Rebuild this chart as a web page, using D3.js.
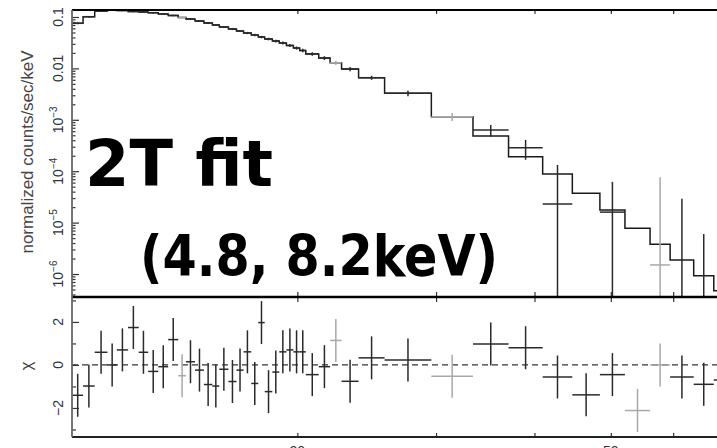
<!DOCTYPE html>
<html>
<head>
<meta charset="utf-8">
<script src="https://cdn.jsdelivr.net/npm/d3@7/dist/d3.min.js"></script>
<style>
  html, body { margin: 0; padding: 0; background: #fff; }
  svg { display: block; }
</style>
</head>
<body>
<svg id="chart" width="717" height="448"></svg>
<script>
// ---------------- DATA ----------------
// energy bin edges, keV (44 bins)
const energyEdges = [10.36, 10.69, 11.06, 11.48, 11.80, 12.19, 12.58, 12.93, 13.32, 13.71,
  14.12, 14.44, 14.83, 15.22, 15.60, 15.92, 16.35, 16.74, 17.09, 17.48,
  17.84, 18.18, 18.59, 18.97, 19.37, 19.77, 20.14, 20.50, 21.29, 22.01,
  22.76, 23.92, 25.81, 29.59, 33.42, 37.08, 40.97, 44.68, 48.43, 52.11,
  56.08, 59.47, 63.71, 67.56, 71.22];

// observed normalized counts/sec/keV (null = not drawn in log panel)
const counts = [0.0754, 0.1013, 0.1308, 0.135, 0.134, 0.1279, 0.1251, 0.1213, 0.1144, 0.107,
  0.0978, 0.0914, 0.0836, 0.0764, 0.0699, 0.0639, 0.0584, 0.0534, 0.0488, 0.0447,
  0.0408, 0.0373, 0.0341, 0.0312, 0.0279, 0.0249, 0.0223, 0.0191, 0.0159, 0.0129,
  0.00973, 0.00659, 0.00328, 0.00115, 6.33e-4, 2.87e-4, 2.3e-5, null, 1.6e-5, null,
  1.5e-6, 0, 0, null];

// 1-sigma errors on counts
const countErr = [0.003, 0.003, 0.004, 0.004, 0.004, 0.004, 0.004, 0.004, 0.004, 0.004,
  0.004, 0.004, 0.0035, 0.0033, 0.0031, 0.003, 0.0028, 0.0026, 0.0025, 0.0024,
  0.0023, 0.0022, 0.0021, 0.002, 0.0019, 0.0018, 0.0017, 0.0015, 0.0014, 0.0012,
  0.0009, 0.0006, 0.0004, 0.0002, 1.6e-4, 1.2e-4, 1.09e-4, null, 4.6e-5, null,
  7.5e-5, 2.9e-5, 6.0e-6, null];

// 2T model (folded), counts/sec/keV
const model = [0.0754, 0.1013, 0.1308, 0.135, 0.134, 0.1279, 0.1251, 0.1213, 0.1144, 0.107,
  0.0978, 0.0914, 0.0836, 0.0764, 0.0699, 0.0639, 0.0584, 0.0534, 0.0488, 0.0447,
  0.0408, 0.0373, 0.0341, 0.0312, 0.0279, 0.0249, 0.0223, 0.0191, 0.0159, 0.0129,
  0.00973, 0.00659, 0.00328, 0.00115, 4.84e-4, 1.91e-4, 8.82e-5, 3.72e-5, 1.76e-5, 7.74e-6,
  3.78e-6, 1.87e-6, 9.27e-7, 4.73e-7];

// residuals, chi
const chi = [-1.41, -0.98, 0.59, 0.0, 0.70, 1.74, 0.59, -0.30, -0.08, 1.18,
  -0.50, 0.15, -0.24, -0.91, -0.98, -0.20, -0.77, -0.24, 0.61, -0.86,
  1.97, -1.24, -0.33, 0.61, 0.70, 0.61, 0.61, -0.45, -0.08, 1.14,
  -0.76, 0.33, 0.23, -0.52, 0.98, 0.80, -0.56, -1.39, -0.45, -2.12,
  0.0, -0.56, -0.90, -0.70];

// 0 = dark data set, 1 = light data set
const shade = [0,0,0,0,0,0,0,0,0,0, 1,0,0,0,0,0,0,0,0,0, 0,0,0,0,0,0,0,0,0,1,
  0,0,0,1,0,0,0,0,0,1, 1,0,0,0];

// axis tick values / labels
const xTickValues = [20, 30, 40, 50, 60];
const xTickLabelValues = [20, 50];
const yTopMajor = [1e-1, 1e-2, 1e-3, 1e-4, 1e-5, 1e-6];
const yTopLabelBase = ["0.1", "0.01", "10", "10", "10", "10"];
const yTopLabelExp = ["", "", "\u22123", "\u22124", "\u22125", "\u22126"];
const chiTicks = [-3, -2, -1, 0, 1, 2, 3];
const chiLabelValues = [-2, 0, 2];
const chiLabels = ["\u22122", "0", "2"];
const yTitle = "normalized counts/sec/keV";
const chiTitle = "\u03c7";
const note1 = "2T fit";
const note2 = "(4.8, 8.2keV)";

// ---------------- LAYOUT ----------------
const L = 72, R = 717, T = 10, MID = 297, B = 437;
const svg = d3.select("#chart");
const x = d3.scaleLog().domain([10.35, 68.2]).range([L, R]);
const yTop = d3.scaleLog().domain([3.57e-7, 0.1368]).range([MID, T]);
const yRes = d3.scaleLinear().domain([-3.35, 3.16]).range([B, MID]);
const colors = ["#2a2a2a", "#a8a8a8"];

const defs = svg.append("defs");
defs.append("clipPath").attr("id", "clipTop").append("rect")
  .attr("x", L).attr("y", T).attr("width", R - L).attr("height", MID - T);
defs.append("clipPath").attr("id", "clipRes").append("rect")
  .attr("x", L).attr("y", MID).attr("width", R - L).attr("height", B - MID);

const bins = counts.map((c, i) => ({
  lo: energyEdges[i], hi: energyEdges[i + 1], c, e: countErr[i], m: model[i], chi: chi[i], s: shade[i]
}));
const xMid = d => (x(d.lo) + x(d.hi)) / 2;

// ---------------- TOP PANEL ----------------
const gTop = svg.append("g").attr("clip-path", "url(#clipTop)");

// model step line
const stepPts = [];
bins.forEach(d => { stepPts.push([d.lo, d.m]); stepPts.push([d.hi, d.m]); });
gTop.append("path")
  .attr("d", d3.line().x(p => x(p[0])).y(p => yTop(p[1]))(stepPts))
  .attr("fill", "none").attr("stroke", "#1a1a1a").attr("stroke-width", 1.5);

// data crosses
bins.forEach(d => {
  if (d.c === null) return;
  const col = colors[d.s];
  if (d.c > 0) {
    gTop.append("line").attr("x1", x(d.lo)).attr("x2", x(d.hi))
      .attr("y1", yTop(d.c)).attr("y2", yTop(d.c))
      .attr("stroke", col).attr("stroke-width", 1.5);
  }
  const yHi = yTop(d.c + d.e);
  const yLo = (d.c - d.e) > 0 ? yTop(d.c - d.e) : MID + 5;
  gTop.append("line").attr("x1", xMid(d)).attr("x2", xMid(d))
    .attr("y1", yHi).attr("y2", yLo)
    .attr("stroke", col).attr("stroke-width", 1.5);
});

// ---------------- RESIDUAL PANEL ----------------
const gRes = svg.append("g").attr("clip-path", "url(#clipRes)");
gRes.append("line").attr("x1", L).attr("x2", R)
  .attr("y1", yRes(0)).attr("y2", yRes(0))
  .attr("stroke", "#333").attr("stroke-width", 1.2).attr("stroke-dasharray", "6,4");
bins.forEach(d => {
  const col = colors[d.s];
  gRes.append("line").attr("x1", x(d.lo)).attr("x2", x(d.hi))
    .attr("y1", yRes(d.chi)).attr("y2", yRes(d.chi))
    .attr("stroke", col).attr("stroke-width", 1.5);
  gRes.append("line").attr("x1", xMid(d)).attr("x2", xMid(d))
    .attr("y1", yRes(d.chi + 1)).attr("y2", yRes(d.chi - 1))
    .attr("stroke", col).attr("stroke-width", 1.5);
});

// ---------------- AXES / TICKS ----------------
function clean(g) { g.select(".domain").remove(); g.selectAll("text").remove(); g.selectAll("line").attr("stroke", "#333").attr("stroke-width", 1.2); }

// x ticks (inward on every horizontal frame line)
svg.append("g").attr("transform", `translate(0,${T})`)
  .call(d3.axisBottom(x).tickValues(xTickValues).tickSize(4)).call(clean);
svg.append("g").attr("transform", `translate(0,${MID})`)
  .call(d3.axisTop(x).tickValues(xTickValues).tickSize(5)).call(clean);
svg.append("g").attr("transform", `translate(0,${MID})`)
  .call(d3.axisBottom(x).tickValues(xTickValues).tickSize(5)).call(clean);
svg.append("g").attr("transform", `translate(0,${B})`)
  .call(d3.axisTop(x).tickValues(xTickValues).tickSize(4)).call(clean);

// y ticks top panel
const yMinor = [];
[1e-1, 1e-2, 1e-3, 1e-4, 1e-5, 1e-6, 1e-7].forEach(dec => {
  for (let k = 2; k <= 9; k++) {
    const v = k * dec;
    if (v > 3.57e-7 && v < 0.1368) yMinor.push(v);
  }
});
svg.append("g").attr("transform", `translate(${L},0)`)
  .call(d3.axisRight(yTop).tickValues(yTopMajor).tickSize(7)).call(clean);
svg.append("g").attr("transform", `translate(${L},0)`)
  .call(d3.axisRight(yTop).tickValues(yMinor).tickSize(3.5)).call(clean);

// y ticks residual panel
svg.append("g").attr("transform", `translate(${L},0)`)
  .call(d3.axisRight(yRes).tickValues(chiTicks.filter(v => chiLabelValues.includes(v))).tickSize(7)).call(clean);
svg.append("g").attr("transform", `translate(${L},0)`)
  .call(d3.axisRight(yRes).tickValues(chiTicks.filter(v => !chiLabelValues.includes(v))).tickSize(4)).call(clean);

// frame
svg.append("line").attr("x1", L).attr("x2", R).attr("y1", T).attr("y2", T)
  .attr("stroke", "#000").attr("stroke-width", 2);
svg.append("line").attr("x1", L).attr("x2", R).attr("y1", MID).attr("y2", MID)
  .attr("stroke", "#000").attr("stroke-width", 2.6);
svg.append("line").attr("x1", L).attr("x2", R).attr("y1", B).attr("y2", B)
  .attr("stroke", "#222").attr("stroke-width", 1.8);
svg.append("line").attr("x1", L).attr("x2", L).attr("y1", T).attr("y2", B)
  .attr("stroke", "#666").attr("stroke-width", 1.8);

// ---------------- TEXT ----------------
const labFont = "'Liberation Sans', Arial, sans-serif";
yTopMajor.forEach((v, i) => {
  const t = svg.append("text")
    .attr("transform", `translate(63,${yTop(v)}) rotate(-90)`)
    .attr("text-anchor", "middle")
    .attr("font-family", labFont).attr("font-size", 14).attr("fill", "#333");
  t.append("tspan").text(yTopLabelBase[i]);
  if (yTopLabelExp[i]) t.append("tspan").attr("dy", -6).attr("font-size", 10).text(yTopLabelExp[i]);
});
chiLabelValues.forEach((v, i) => {
  svg.append("text")
    .attr("transform", `translate(63,${yRes(v)}) rotate(-90)`)
    .attr("text-anchor", "middle")
    .attr("font-family", labFont).attr("font-size", 14).attr("fill", "#333")
    .text(chiLabels[i]);
});
xTickLabelValues.forEach(v => {
  svg.append("text").attr("x", x(v)).attr("y", 456)
    .attr("text-anchor", "middle")
    .attr("font-family", labFont).attr("font-size", 14).attr("fill", "#333")
    .text(v);
});
svg.append("text")
  .attr("transform", `translate(33,152) rotate(-90)`)
  .attr("text-anchor", "middle")
  .attr("font-family", labFont).attr("font-size", 17).attr("fill", "#444")
  .text(yTitle);
svg.append("text")
  .attr("transform", `translate(32,366) rotate(-90)`)
  .attr("text-anchor", "middle")
  .attr("font-family", labFont).attr("font-size", 17).attr("fill", "#444")
  .text(chiTitle);

// annotations
svg.append("text").attr("x", 85).attr("y", 186)
  .attr("font-family", "'DejaVu Sans', sans-serif").attr("font-weight", "bold")
  .attr("font-size", 64).attr("fill", "#000")
  .attr("textLength", 188).attr("lengthAdjust", "spacingAndGlyphs")
  .text(note1);
svg.append("text").attr("x", 140).attr("y", 276)
  .attr("font-family", "'DejaVu Sans', sans-serif").attr("font-weight", "bold")
  .attr("font-size", 57).attr("fill", "#000")
  .attr("textLength", 358).attr("lengthAdjust", "spacingAndGlyphs")
  .text(note2);
</script>
</body>
</html>
